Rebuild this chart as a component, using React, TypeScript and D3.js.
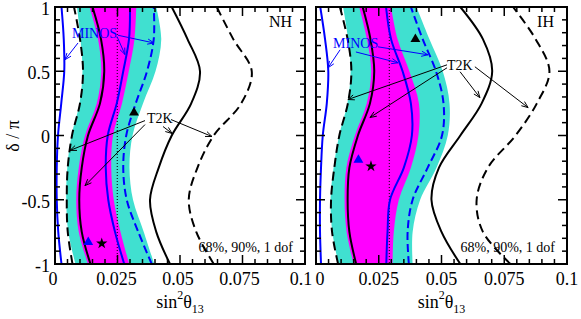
import React from 'react';
import * as d3 from 'd3';

// delta/pi sample points, bottom to top
const delta = [-1, -0.75, -0.5, -0.25, 0, 0.25, 0.5, 0.75, 1];

// ---- NH panel (sin^2 theta13 at each delta) ----
const nhBlueLeft = [0.0026, 0.0013, 0.0007, 0.0007, 0.0012, 0.0025, 0.0037, 0.0035, 0.0026];
const nhDashLeft = [0.007, 0.0051, 0.0047, 0.0051, 0.0068, 0.01, 0.0112, 0.01, 0.0076];
const nhCyanLeft = [0.0082, 0.0053, 0.0045, 0.0049, 0.0066, 0.0098, 0.011, 0.0102, 0.0088];
const nhSolidLeft = [0.0142, 0.0107, 0.0097, 0.0107, 0.0132, 0.018, 0.0197, 0.0184, 0.015];
const nhMagLeft = [0.0132, 0.0095, 0.0085, 0.0095, 0.012, 0.0167, 0.0185, 0.0172, 0.0138];
const nhBlueInner = [0.0277, 0.024, 0.0213, 0.0203, 0.0211, 0.0247, 0.0273, 0.0296, 0.03];
const nhMagRight = [0.0297, 0.0262, 0.0235, 0.0225, 0.0232, 0.0268, 0.0295, 0.0318, 0.0325];
const nhBlueDash = [0.0387, 0.0333, 0.0287, 0.0273, 0.0285, 0.0323, 0.0368, 0.0395, 0.0395];
const nhCyanRight = [0.0397, 0.0355, 0.0312, 0.0298, 0.031, 0.0352, 0.0402, 0.0425, 0.0405];
const nhSolidRight = [0.046, 0.0405, 0.038, 0.0415, 0.0467, 0.0545, 0.058, 0.053, 0.0467];
const nhDashRight = [0.0635, 0.0565, 0.0535, 0.057, 0.0635, 0.0745, 0.0787, 0.0713, 0.0647];
const nhReactor = 0.0249;
const nhStar = [0.0187, -0.84];
const nhBlueTri = [0.0133, -0.83];
const nhBlackTri = [0.0316, 0.178];

// ---- IH panel ----
const ihBlueLeft = [0.002, 0.0016, 0.0016, 0.002, 0.0027, 0.0043, 0.0049, 0.0036, 0.0017];
const ihDashLeft = [0.0088, 0.0064, 0.006, 0.0073, 0.0093, 0.0127, 0.0141, 0.0126, 0.0095];
const ihCyanLeft = [0.009, 0.0065, 0.0058, 0.007, 0.0092, 0.0125, 0.0138, 0.0128, 0.0108];
const ihSolidLeft = [0.016, 0.0133, 0.0126, 0.0133, 0.0167, 0.0215, 0.0232, 0.0217, 0.0186];
const ihMagLeft = [0.015, 0.0122, 0.0114, 0.0121, 0.0155, 0.0202, 0.022, 0.0203, 0.0172];
const ihBlueInner = [0.028, 0.0285, 0.0295, 0.035, 0.0382, 0.0378, 0.0345, 0.0299, 0.0279];
const ihMagRight = [0.0305, 0.031, 0.033, 0.0378, 0.0408, 0.041, 0.0372, 0.0325, 0.0299];
const ihBlueDash = [0.037, 0.0365, 0.0385, 0.0445, 0.0502, 0.0508, 0.0478, 0.0425, 0.0378];
const ihCyanRight = [0.0385, 0.0385, 0.0415, 0.048, 0.0525, 0.0532, 0.0505, 0.0452, 0.04];
const ihSolidRight = [0.0575, 0.05, 0.046, 0.049, 0.0575, 0.066, 0.0702, 0.0665, 0.0575];
const ihDashRight = [0.0775, 0.0665, 0.064, 0.0685, 0.0795, 0.088, 0.093, 0.0875, 0.0785];
const ihReactor = 0.0292;
const ihStar = [0.0219, -0.24];
const ihBlueTri = [0.0169, -0.19];
const ihBlackTri = [0.0396, 0.75];

const xTicks = [0, 0.025, 0.05, 0.075, 0.1];
const xTickLabels = ['0', '0.025', '0.05', '0.075', '0.1'];
const yTicks = [-1, -0.5, 0, 0.5, 1];
const yTickLabels = ['-1', '-0.5', '0', '0.5', '1'];

// annotation anchors in data units [x, delta]
const nhMinosText = [0.0068, 0.76];
const nhMinosArrows = [
  [0.0092, 0.72, 0.004, 0.59],
  [0.0248, 0.77, 0.028, 0.63],
  [0.0252, 0.78, 0.0396, 0.72],
];
const nhT2kText = [0.0368, 0.1];
const nhT2kArrows = [
  [0.036, 0.116, 0.006, -0.116],
  [0.036, 0.085, 0.012, -0.39],
  [0.0432, 0.07, 0.0468, 0.016],
  [0.0464, 0.124, 0.0628, -0.008],
];
const ihMinosText = [0.0068, 0.68];
const ihMinosArrows = [
  [0.0096, 0.667, 0.0048, 0.527],
  [0.0159, 0.65, 0.0327, 0.566],
  [0.0247, 0.69, 0.0446, 0.628],
];
const ihT2kText = [0.0522, 0.51];
const ihT2kArrows = [
  [0.0522, 0.55, 0.0127, 0.28],
  [0.0522, 0.527, 0.0215, 0.14],
  [0.0574, 0.496, 0.0653, 0.295],
  [0.0633, 0.535, 0.0845, 0.217],
];

const serif = "'Liberation Serif', 'Times New Roman', serif";
const CYAN = '#40e0d0';
const MAGENTA = '#ff00ff';
const BLUE = '#0000ff';

function Arrow({ x1, y1, x2, y2, color }) {
  const a = Math.atan2(y2 - y1, x2 - x1);
  const L = 7, s = 0.38;
  const h1 = [x2 - L * Math.cos(a - s), y2 - L * Math.sin(a - s)];
  const h2 = [x2 - L * Math.cos(a + s), y2 - L * Math.sin(a + s)];
  return (
    <g stroke={color} strokeWidth={1} fill="none">
      <line x1={x1} y1={y1} x2={x2} y2={y2} />
      <path d={`M${h1[0]},${h1[1]}L${x2},${y2}L${h2[0]},${h2[1]}`} />
    </g>
  );
}

function Panel({ id, left, right, top, bottom, p, label, showY, labelNudge }) {
  const x = d3.scaleLinear().domain([0, 0.1]).range([left, right]);
  const y = d3.scaleLinear().domain([-1, 1]).range([bottom, top]);
  const curve = d3.curveCatmullRom.alpha(0.5);
  const line = (vals) =>
    d3.line<number>().x((v) => x(v)).y((_, i) => y(delta[i])).curve(curve)(vals);
  const band = (lo, hi) =>
    d3.area<number>().y((_, i) => y(delta[i])).x0((v) => x(v)).x1((_, i) => x(hi[i])).curve(curve)(lo);
  const tri = d3.symbol(d3.symbolTriangle, 42)();
  const star = d3.symbol(d3.symbolStar, 40)();
  const minorX = d3.range(0, 0.1001, 0.005).filter((v) => Math.abs(v / 0.025 - Math.round(v / 0.025)) > 1e-6);
  const minorY = d3.range(-1, 1.001, 0.1).filter((v) => Math.abs(v / 0.5 - Math.round(v / 0.5)) > 1e-6);
  const solid = { fill: 'none', strokeWidth: 2 };
  return (
    <g>
      <defs>
        <clipPath id={id}>
          <rect x={left} y={top} width={right - left} height={bottom - top} />
        </clipPath>
      </defs>
      <g clipPath={`url(#${id})`}>
        <path d={band(p.cyanLeft, p.cyanRight)} fill={CYAN} />
        <path d={band(p.magLeft, p.magRight)} fill={MAGENTA} />
        <line x1={x(p.reactor)} x2={x(p.reactor)} y1={top} y2={bottom} stroke="#000" strokeWidth={1} strokeDasharray="1,2" />
        <path d={line(p.blueLeft)} stroke={BLUE} {...solid} />
        <path d={line(p.blueInner)} stroke={BLUE} {...solid} />
        <path d={line(p.blueDash)} stroke={BLUE} {...solid} strokeDasharray="8,4" />
        <path d={line(p.solidLeft)} stroke="#000" {...solid} />
        <path d={line(p.solidRight)} stroke="#000" {...solid} />
        <path d={line(p.dashLeft)} stroke="#000" {...solid} strokeDasharray="9,5" />
        <path d={line(p.dashRight)} stroke="#000" {...solid} strokeDasharray="9,5" />
        <path d={tri} transform={`translate(${x(p.blackTri[0])},${y(p.blackTri[1])})`} fill="#000" />
        <path d={tri} transform={`translate(${x(p.blueTri[0])},${y(p.blueTri[1])})`} fill={BLUE} />
        <path d={star} transform={`translate(${x(p.star[0])},${y(p.star[1])})`} fill="#000" />
      </g>
      {p.minosArrows.map((a, i) => (
        <Arrow key={'m' + i} x1={x(a[0])} y1={y(a[1])} x2={x(a[2])} y2={y(a[3])} color={BLUE} />
      ))}
      {p.t2kArrows.map((a, i) => (
        <Arrow key={'t' + i} x1={x(a[0])} y1={y(a[1])} x2={x(a[2])} y2={y(a[3])} color="#000" />
      ))}
      <text x={x(p.minosText[0])} y={y(p.minosText[1])} fill={BLUE} fontSize={14} fontFamily={serif}>MINOS</text>
      <text x={x(p.t2kText[0])} y={y(p.t2kText[1])} fill="#000" fontSize={14} fontFamily={serif}>T2K</text>
      <text x={right - 13} y={top + 20} textAnchor="end" fontSize={16} fontFamily={serif}>{label}</text>
      <text x={right - 12} y={bottom - 12} textAnchor="end" fontSize={14} fontFamily={serif}>68%, 90%, 1 dof</text>
      {/* frame and ticks */}
      <g stroke="#000" strokeWidth={1.5}>
        {xTicks.map((t) => (
          <g key={'xt' + t}>
            <line x1={x(t)} x2={x(t)} y1={bottom} y2={bottom - 9} />
            <line x1={x(t)} x2={x(t)} y1={top} y2={top + 9} />
          </g>
        ))}
        {minorX.map((t) => (
          <g key={'xm' + t}>
            <line x1={x(t)} x2={x(t)} y1={bottom} y2={bottom - 5} />
            <line x1={x(t)} x2={x(t)} y1={top} y2={top + 5} />
          </g>
        ))}
        {yTicks.map((t) => (
          <g key={'yt' + t}>
            <line x1={left} x2={left + 9} y1={y(t)} y2={y(t)} />
            <line x1={right} x2={right - 9} y1={y(t)} y2={y(t)} />
          </g>
        ))}
        {minorY.map((t) => (
          <g key={'ym' + t}>
            <line x1={left} x2={left + 5} y1={y(t)} y2={y(t)} />
            <line x1={right} x2={right - 5} y1={y(t)} y2={y(t)} />
          </g>
        ))}
      </g>
      <rect x={left} y={top} width={right - left} height={bottom - top} fill="none" stroke="#000" strokeWidth={2} />
      <g fontSize={18} fontFamily={serif}>
        {xTicks.map((t, i) => (
          <text key={'xl' + t} x={x(t) + (labelNudge[i] || 0)} y={bottom + 21} textAnchor="middle">{xTickLabels[i]}</text>
        ))}
        {showY &&
          yTicks.map((t, i) => (
            <text key={'yl' + t} x={left - 5} y={y(t) + 1.5} dy="0.35em" textAnchor="end">{yTickLabels[i]}</text>
          ))}
      </g>
      <text x={(left + right) / 2} y={bottom + 44} textAnchor="middle" fontSize={18} fontFamily={serif}>
        sin<tspan fontSize={12} dy={-9}>2</tspan><tspan dy={9}>θ</tspan><tspan fontSize={12} dy={5}>13</tspan>
      </text>
    </g>
  );
}

export default function App() {
  const nh = {
    blueLeft: nhBlueLeft, dashLeft: nhDashLeft, cyanLeft: nhCyanLeft, solidLeft: nhSolidLeft,
    magLeft: nhMagLeft, blueInner: nhBlueInner, magRight: nhMagRight, blueDash: nhBlueDash,
    cyanRight: nhCyanRight, solidRight: nhSolidRight, dashRight: nhDashRight, reactor: nhReactor,
    star: nhStar, blueTri: nhBlueTri, blackTri: nhBlackTri,
    minosText: nhMinosText, minosArrows: nhMinosArrows, t2kText: nhT2kText, t2kArrows: nhT2kArrows,
  };
  const ih = {
    blueLeft: ihBlueLeft, dashLeft: ihDashLeft, cyanLeft: ihCyanLeft, solidLeft: ihSolidLeft,
    magLeft: ihMagLeft, blueInner: ihBlueInner, magRight: ihMagRight, blueDash: ihBlueDash,
    cyanRight: ihCyanRight, solidRight: ihSolidRight, dashRight: ihDashRight, reactor: ihReactor,
    star: ihStar, blueTri: ihBlueTri, blackTri: ihBlackTri,
    minosText: ihMinosText, minosArrows: ihMinosArrows, t2kText: ihT2kText, t2kArrows: ihT2kArrows,
  };
  return (
    <svg width={581} height={319} style={{ position: 'absolute', left: 0, top: 0, background: '#fff' }}>
      <Panel id="clipNH" left={55} right={305} top={7} bottom={264} p={nh} label="NH" showY labelNudge={[-2, -1, -2, -3, -4]} />
      <Panel id="clipIH" left={316} right={567} top={7} bottom={264} p={ih} label="IH" showY={false} labelNudge={[4, 0, 0, 0, 0]} />
      <text transform="translate(19,136) rotate(-90)" textAnchor="middle" fontSize={18} fontFamily={serif}>δ / π</text>
    </svg>
  );
}
